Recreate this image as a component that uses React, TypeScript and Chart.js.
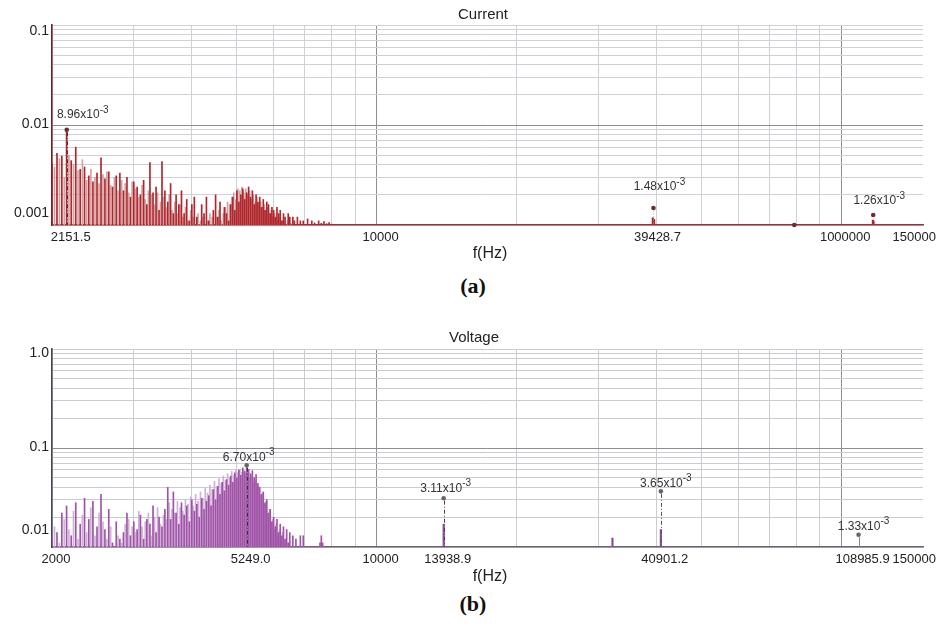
import React, { useEffect, useRef } from 'react';
import { Chart, registerables } from 'chart.js';

Chart.register(...registerables);

const FONT = '"Liberation Sans", Arial, Helvetica, sans-serif';

// ---------------- shared axis data ----------------
const freqGrid = [2000, 3000, 4000, 5000, 6000, 7000, 8000, 9000, 10000, 20000, 30000, 40000, 50000, 60000, 70000, 80000, 90000, 100000];
const freqMajor = [10000, 100000];
const freqMin = 2000;
const freqMax = 150000;

// ---------------- (a) Current ----------------
const currentDarkStartHz = 2000;
const currentLightStartHz = 2025;
const currentBinStepHz = 50;
const currentDark = [
  0.0041, 0.0052, 0.0049, 0.00896, 0.0044, 0.0060, 0.0036, 0.0038, 0.0031, 0.0027,
  0.0033, 0.0047, 0.0029, 0.0034, 0.0024, 0.0031, 0.0033, 0.0022, 0.0030, 0.0019,
  0.0027, 0.0024, 0.0020, 0.0028, 0.0016, 0.0042, 0.0021, 0.0024, 0.0014, 0.0043,
  0.0022, 0.0017, 0.0026, 0.0013, 0.0020, 0.0016, 0.0022, 0.0013, 0.0018, 0.0011,
  0.0016, 0.0019, 0.0012, 0.00095, 0.0016, 0.0013, 0.0019, 0.0011, 0.00092, 0.0014,
  0.0020, 0.0012, 0.0017, 0.00098, 0.0015, 0.0013, 0.0011, 0.0016, 0.0019, 0.0014,
  0.0022, 0.0017, 0.0020, 0.0023, 0.0018, 0.0021, 0.0024, 0.0019, 0.0022, 0.0016,
  0.0020, 0.0017, 0.0019, 0.0015, 0.0018, 0.0014, 0.0017, 0.0016, 0.0013, 0.0015,
  0.0014, 0.0012, 0.0015, 0.0013, 0.0014, 0.0011, 0.0013, 0.0012, 0.0010, 0.0013,
  0.0012, 0.00095, 0.0012, 0.0011, 0.00094, 0.0012, 0.0010, 0.0011, 0.00093, 0.0011,
  0.00096, 0.0010, 0.00115, 0.00092, 0.0010, 0.0011, 0.00094, 0.00105, 0.00092, 0.0010,
  0.0011, 0.00096, 0.00104, 0.00093, 0.00108, 0.00094, 0.00103, 0.00092, 0.00106, 0.00094,
  0.00102,
];
const currentLight = [
  0.0038, 0.0046, 0.0030, 0.0050, 0.0040, 0.0035, 0.0045, 0.0028, 0.0036, 0.0030,
  0.0026, 0.0032, 0.0034, 0.0025, 0.0030, 0.0022, 0.0028, 0.0026, 0.0021, 0.0027,
  0.0023, 0.0019, 0.0025, 0.0018, 0.0022, 0.0020, 0.0016, 0.0021, 0.0017, 0.0019,
  0.0015, 0.0020, 0.0014, 0.0017, 0.0013, 0.0016, 0.0012, 0.0015, 0.0011, 0.0014,
  0.0012, 0.0010, 0.0013, 0.0011, 0.0012, 0.00096, 0.0011, 0.0013, 0.0012, 0.0010,
  0.0012, 0.0014, 0.0011, 0.0013, 0.0015, 0.0017, 0.0016, 0.0019, 0.0021, 0.0018,
  0.0023, 0.0022, 0.0024, 0.0021, 0.0023, 0.0020, 0.0022, 0.0018, 0.0020, 0.0017,
  0.0019, 0.0016, 0.0017, 0.0015, 0.0016, 0.0014, 0.0015, 0.0013, 0.0014, 0.0012,
  0.0013, 0.0012, 0.0011, 0.0012, 0.0010, 0.0011, 0.00105, 0.00098, 0.0011, 0.00096,
  0.00104,
];
const currentLoneFreqs = [39300, 39550, 117000, 117400];
const currentLoneValues = [0.00118, 0.00114, 0.00112, 0.00109];
const currentPeakFreqs = [2151.5, 39428.7, 117200, 79250];
const currentPeakValues = [0.00896, 0.00148, 0.00126, 0.001];
const currentPeakLabels = ['8.96x10^-3', '1.48x10^-3', '1.26x10^-3', ''];
const currentXTickValues = [2151.5, 10000, 39428.7, 100000, 150000];
const currentXTickLabels = ['2151.5', '10000', '39428.7', '1000000', '150000'];
const currentYTickValues = [0.1, 0.01, 0.001];
const currentYTickLabels = ['0.1', '0.01', '0.001'];
const currentYGrid = [0.001, 0.002, 0.003, 0.004, 0.005, 0.006, 0.007, 0.008, 0.009, 0.01, 0.02, 0.03, 0.04, 0.05, 0.06, 0.07, 0.08, 0.09, 0.1];
const currentYMajor = [0.01];

// ---------------- (b) Voltage ----------------
const voltageDarkStartHz = 2000;
const voltageLightStartHz = 2025;
const voltageBinStepHz = 50;
const voltageDark = [
  0.012, 0.014, 0.022, 0.026, 0.013, 0.028, 0.017, 0.031, 0.019, 0.029,
  0.016, 0.034, 0.015, 0.024, 0.011, 0.018, 0.012, 0.014, 0.022, 0.013,
  0.018, 0.015, 0.021, 0.012, 0.019, 0.017, 0.026, 0.014, 0.020, 0.016,
  0.024, 0.040, 0.019, 0.036, 0.022, 0.017, 0.028, 0.021, 0.026, 0.018,
  0.030, 0.023, 0.027, 0.020, 0.031, 0.024, 0.029, 0.033, 0.026, 0.038,
  0.030, 0.041, 0.034, 0.045, 0.037, 0.048, 0.042, 0.052, 0.045, 0.056,
  0.050, 0.060, 0.053, 0.063, 0.058, 0.067, 0.061, 0.055, 0.059, 0.050,
  0.054, 0.044, 0.040, 0.034, 0.036, 0.028, 0.030, 0.022, 0.024, 0.018,
  0.020, 0.016, 0.019, 0.014, 0.017, 0.013, 0.016, 0.012, 0.015, 0.011,
  0.014, 0.0098, 0.013, 0.0095, 0.012, 0.0095, 0.0098, 0.013, 0.0094, 0.013,
  0.0096, 0.0095, 0.0095, 0.0095, 0.0095, 0.0095, 0.0095, 0.0095, 0.0095, 0.0095,
  0.0096, 0.011, 0.013, 0.011,
];
const voltageLight = [
  0.016, 0.011, 0.019, 0.015, 0.023, 0.012, 0.021, 0.014, 0.025, 0.013,
  0.022, 0.018, 0.012, 0.016, 0.0098, 0.013, 0.011, 0.017, 0.019, 0.016,
  0.014, 0.023, 0.016, 0.018, 0.022, 0.013, 0.020, 0.025, 0.017, 0.021,
  0.019, 0.028, 0.024, 0.022, 0.029, 0.025, 0.023, 0.030, 0.027, 0.032,
  0.026, 0.034, 0.029, 0.036, 0.031, 0.039, 0.035, 0.042, 0.038, 0.046,
  0.041, 0.049, 0.044, 0.052, 0.047, 0.055, 0.050, 0.058, 0.053, 0.060,
  0.056, 0.061, 0.057, 0.059, 0.054, 0.057, 0.050, 0.052, 0.045, 0.047,
  0.040, 0.041, 0.033, 0.035, 0.027, 0.029, 0.022, 0.024, 0.018, 0.019,
  0.015, 0.017, 0.013, 0.015, 0.012, 0.014, 0.011, 0.012, 0.0098, 0.011,
  0.0095,
];
const voltageLoneFreqs = [13938.9, 32180, 40901.2];
const voltageLoneValues = [0.017, 0.0123, 0.015];
const voltagePeakFreqs = [5249.0, 13938.9, 40901.2, 108985.9];
const voltagePeakValues = [0.067, 0.0311, 0.0365, 0.0133];
const voltagePeakLabels = ['6.70x10^-3', '3.11x10^-3', '3.65x10^-3', '1.33x10^-3'];
const voltageXTickValues = [2000, 5249.0, 10000, 13938.9, 40901.2, 108985.9, 150000];
const voltageXTickLabels = ['2000', '5249.0', '10000', '13938.9', '40901.2', '108985.9', '150000'];
const voltageYTickValues = [1.0, 0.1, 0.01];
const voltageYTickLabels = ['1.0', '0.1', '0.01'];
const voltageYGrid = [0.01, 0.02, 0.03, 0.04, 0.05, 0.06, 0.07, 0.08, 0.09, 0.1, 0.2, 0.3, 0.4, 0.5, 0.6, 0.7, 0.8, 0.9, 1.0];
const voltageYMajor = [0.1];

// ---------------- helpers ----------------
const bins = (start: number, step: number, values: number[]) =>
  values.map((v, i) => ({ x: start + step * i, y: v }));
const pairs = (xs: number[], ys: number[]) => xs.map((x, i) => ({ x, y: ys[i] }));

const figurePlugin = {
  id: 'figureText',
  afterDraw(chart: any, _args: any, o: any) {
    const { ctx, chartArea: a } = chart;
    const xs = chart.scales.x;
    const ys = chart.scales.y;
    ctx.save();
    // peak stems
    o.peakFreqs.forEach((f: number, i: number) => {
      const st = o.stemStyles[i];
      if (st === 'none') return;
      const px = Math.round(xs.getPixelForValue(f)) + 0.5;
      const py = ys.getPixelForValue(o.peakValues[i]);
      ctx.beginPath();
      ctx.setLineDash(st === 'dashdot' ? [4, 2, 1, 2] : st === 'dot' ? [1, 2] : []);
      ctx.strokeStyle = o.stemColors[i];
      ctx.lineWidth = 1;
      ctx.moveTo(px, py + 2.5);
      ctx.lineTo(px, a.bottom);
      ctx.stroke();
    });
    ctx.setLineDash([]);
    ctx.fillStyle = '#222';
    // title
    ctx.font = `15px ${FONT}`;
    ctx.textAlign = 'center';
    ctx.textBaseline = 'middle';
    ctx.fillText(o.title, o.titleX, o.titleY);
    // axis title
    ctx.font = `16px ${FONT}`;
    ctx.fillText('f(Hz)', o.xTitleX, a.bottom + o.xTitleDy);
    // x tick labels
    ctx.font = `13px ${FONT}`;
    o.xTickValues.forEach((v: number, i: number) => {
      const t = o.xTickLabels[i];
      const w = ctx.measureText(t).width;
      let cx = xs.getPixelForValue(v) + 4;
      cx = Math.min(cx, chart.width - 4 - w / 2);
      ctx.fillText(t, cx, a.bottom + 12);
    });
    // y tick labels
    ctx.font = `14px ${FONT}`;
    ctx.textAlign = 'right';
    o.yTickValues.forEach((v: number, i: number) => {
      ctx.fillText(o.yTickLabels[i], a.left - 3, ys.getPixelForValue(v) + o.yLabelShift[i]);
    });
    // peak annotations
    ctx.fillStyle = '#333';
    ctx.textAlign = 'left';
    o.peakLabels.forEach((lab: string, i: number) => {
      if (!lab) return;
      const [main, sup] = lab.split('^');
      ctx.font = `12px ${FONT}`;
      const wm = ctx.measureText(main).width;
      ctx.font = `10px ${FONT}`;
      const ws = ctx.measureText(sup).width;
      const cx = xs.getPixelForValue(o.peakFreqs[i]) + o.labelDx[i];
      const cy = ys.getPixelForValue(o.peakValues[i]) - o.labelDy[i];
      const left = cx - (wm + ws) / 2;
      ctx.font = `12px ${FONT}`;
      ctx.fillText(main, left, cy);
      ctx.font = `10px ${FONT}`;
      ctx.fillText(sup, left + wm, cy - 5);
    });
    ctx.restore();
  },
};

function makeConfig(s: any): any {
  const minorColor = s.minorGrid;
  const majorColor = s.majorGrid;
  return {
    type: 'bar',
    data: {
      datasets: [
        { type: 'bar', data: s.light, backgroundColor: s.lightColor, barThickness: 1, grouped: false, borderWidth: 0, order: 4 },
        { type: 'bar', data: s.dark, backgroundColor: s.darkColor, barThickness: 1, grouped: false, borderWidth: 0, order: 3 },
        { type: 'bar', data: s.lone, backgroundColor: s.loneColor, barThickness: 1.5, grouped: false, borderWidth: 0, order: 2 },
        { type: 'scatter', data: s.peaks, backgroundColor: s.dotColor, borderWidth: 0, pointRadius: 2.3, clip: false, order: 1 },
      ],
    },
    options: {
      animation: false,
      responsive: false,
      devicePixelRatio: 1,
      events: [],
      layout: { padding: { left: 0, right: 17, top: s.padTop, bottom: 0 } },
      plugins: {
        legend: { display: false },
        tooltip: { enabled: false },
        figureText: s.text,
      },
      scales: {
        x: {
          type: 'logarithmic',
          min: freqMin,
          max: freqMax,
          bounds: 'data',
          offset: false,
          afterBuildTicks: (sc: any) => { sc.ticks = freqGrid.map((v) => ({ value: v })); },
          afterFit: (sc: any) => { sc.height = s.xAxisHeight; },
          ticks: { display: false, autoSkip: false },
          grid: {
            offset: false,
            drawTicks: false,
            color: (c: any) => (c.tick && freqMajor.includes(c.tick.value) ? majorColor : minorColor),
          },
          border: { display: true, color: s.xBorder, width: 1.6 },
        },
        y: {
          type: 'logarithmic',
          min: s.yMin,
          max: s.yMax,
          bounds: 'data',
          afterBuildTicks: (sc: any) => { sc.ticks = s.yGrid.map((v: number) => ({ value: v })); },
          afterFit: (sc: any) => { sc.width = 52; },
          ticks: { display: false, autoSkip: false },
          grid: {
            drawTicks: false,
            color: (c: any) => (c.tick && s.yMajor.includes(c.tick.value) ? majorColor : minorColor),
          },
          border: { display: true, color: s.yBorder, width: 1.6 },
        },
      },
    },
    plugins: [figurePlugin],
  };
}

const currentSpec = {
  dark: bins(currentDarkStartHz, currentBinStepHz, currentDark),
  light: bins(currentLightStartHz, currentBinStepHz, currentLight),
  lone: pairs(currentLoneFreqs, currentLoneValues),
  peaks: pairs(currentPeakFreqs, currentPeakValues),
  darkColor: '#b0262b',
  lightColor: '#d2a2a3',
  loneColor: '#b0262b',
  dotColor: '#6a2e2e',
  minorGrid: '#cfd0d8',
  majorGrid: '#8d8d95',
  xBorder: '#9a3333',
  yBorder: '#7d1d1d',
  yMin: 0.001,
  yMax: 0.1,
  yGrid: currentYGrid,
  yMajor: currentYMajor,
  padTop: 25,
  xAxisHeight: 40,
  text: {
    title: 'Current', titleX: 483, titleY: 15,
    xTitleX: 490, xTitleDy: 29,
    xTickValues: currentXTickValues, xTickLabels: currentXTickLabels,
    yTickValues: currentYTickValues, yTickLabels: currentYTickLabels,
    yLabelShift: [6, -1, -12],
    peakFreqs: currentPeakFreqs, peakValues: currentPeakValues, peakLabels: currentPeakLabels,
    labelDx: [16, 6, 6, 0], labelDy: [15, 21, 14, 0],
    stemStyles: ['dashdot', 'dot', 'none', 'none'],
    stemColors: ['#5a2a2a', '#b0b0b0', '#999999', '#999999'],
  },
};

const voltageSpec = {
  dark: bins(voltageDarkStartHz, voltageBinStepHz, voltageDark),
  light: bins(voltageLightStartHz, voltageBinStepHz, voltageLight),
  lone: pairs(voltageLoneFreqs, voltageLoneValues),
  peaks: pairs(voltagePeakFreqs, voltagePeakValues),
  darkColor: '#9f52a6',
  lightColor: '#cfb0d6',
  loneColor: '#8d4a96',
  dotColor: '#666666',
  minorGrid: '#cbcbd6',
  majorGrid: '#8d8d97',
  xBorder: '#6c6474',
  yBorder: '#4a4352',
  yMin: 0.01,
  yMax: 1.0,
  yGrid: voltageYGrid,
  yMajor: voltageYMajor,
  padTop: 29,
  xAxisHeight: 38,
  text: {
    title: 'Voltage', titleX: 474, titleY: 18,
    xTitleX: 490, xTitleDy: 30,
    xTickValues: voltageXTickValues, xTickLabels: voltageXTickLabels,
    yTickValues: voltageYTickValues, yTickLabels: voltageYTickLabels,
    yLabelShift: [4, -1, -17],
    peakFreqs: voltagePeakFreqs, peakValues: voltagePeakValues, peakLabels: voltagePeakLabels,
    labelDx: [2, 2, 5, 5], labelDy: [8, 10, 8, 8],
    stemStyles: ['dashdot', 'dashdot', 'dashdot', 'solid'],
    stemColors: ['#333333', '#5b2f63', '#555555', '#888888'],
  },
};

const captionStyle: React.CSSProperties = {
  position: 'absolute',
  width: 100,
  textAlign: 'center',
  font: 'bold 22px "Liberation Serif", "DejaVu Serif", serif',
  lineHeight: '24px',
  color: '#111',
};

export default function App() {
  const topRef = useRef<HTMLCanvasElement>(null);
  const botRef = useRef<HTMLCanvasElement>(null);
  useEffect(() => {
    const c1 = new Chart(topRef.current as HTMLCanvasElement, makeConfig(currentSpec));
    const c2 = new Chart(botRef.current as HTMLCanvasElement, makeConfig(voltageSpec));
    return () => {
      c1.destroy();
      c2.destroy();
    };
  }, []);
  return (
    <div style={{ position: 'absolute', left: 0, top: 0, width: 940, height: 628, background: '#fff', overflow: 'hidden' }}>
      <canvas ref={topRef} width={940} height={265} style={{ position: 'absolute', left: 0, top: 0, display: 'block' }} />
      <div style={{ ...captionStyle, left: 423, top: 274 }}>(a)</div>
      <canvas ref={botRef} width={940} height={265} style={{ position: 'absolute', left: 0, top: 320, display: 'block' }} />
      <div style={{ ...captionStyle, left: 423, top: 592 }}>(b)</div>
    </div>
  );
}
